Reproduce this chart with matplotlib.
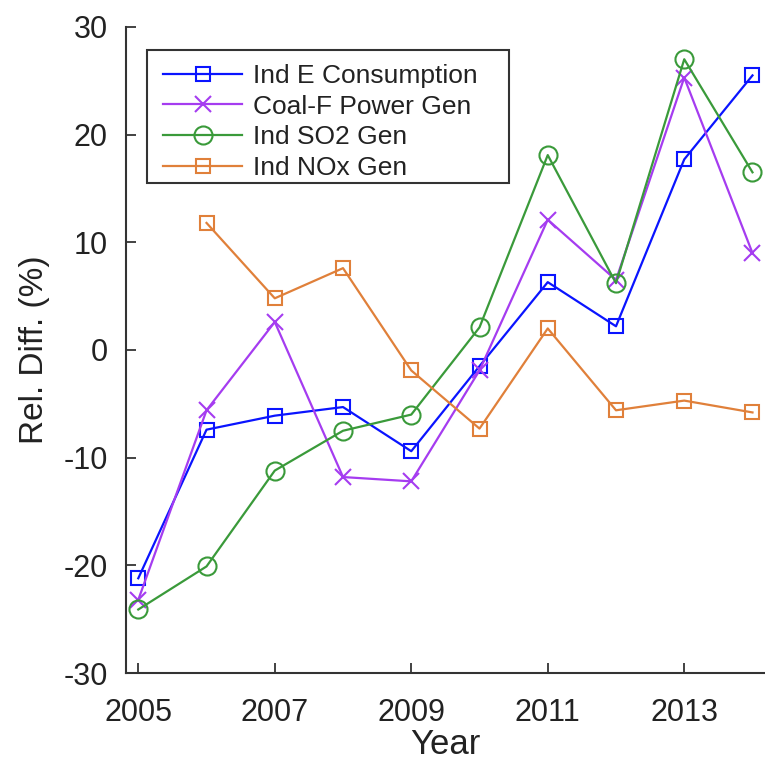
import matplotlib
matplotlib.use("Agg")
import matplotlib.pyplot as plt
from matplotlib.patches import Rectangle

plt.rcParams['font.family'] = ['Liberation Sans', 'DejaVu Sans']
plt.rcParams['axes.unicode_minus'] = False

years = [2005, 2006, 2007, 2008, 2009, 2010, 2011, 2012, 2013, 2014]
years_nox = [2006, 2007, 2008, 2009, 2010, 2011, 2012, 2013, 2014]
ind_e = [-21.2, -7.4, -6.1, -5.3, -9.4, -1.5, 6.3, 2.2, 17.7, 25.5]
coal_f = [-23.2, -5.6, 2.6, -11.8, -12.2, -1.9, 12.1, 6.5, 25.3, 9.0]
ind_so2 = [-24.1, -20.1, -11.2, -7.5, -6.0, 2.1, 18.1, 6.2, 27.0, 16.5]
ind_nox = [11.8, 4.8, 7.6, -1.9, -7.3, 2.0, -5.6, -4.7, -5.8]

fig = plt.figure(figsize=(7.65, 7.61), dpi=100)
ax = fig.add_axes([0.1647, 0.1156, 0.835, 0.849])

lw = 1.6
ax.plot(years, ind_e, color='#0a14ff', marker='s', markersize=10, mfc='none',
        mew=1.5, lw=lw, label='Ind E Consumption')
ax.plot(years, coal_f, color='#a53cf0', marker='x', markersize=12,
        mew=1.5, lw=lw, label='Coal-F Power Gen')
ax.plot(years, ind_so2, color='#3a9a3a', marker='o', markersize=13, mfc='none',
        mew=1.5, lw=lw, label='Ind SO2 Gen')
ax.plot(years_nox, ind_nox, color='#e0803a', marker='s', markersize=10, mfc='none',
        mew=1.5, lw=lw, label='Ind NOx Gen')

ax.set_xlim(2004.82, 2014.18)
ax.set_ylim(-30, 30)
ax.set_xticks([2005, 2007, 2009, 2011, 2013])
ax.set_yticks([-30, -20, -10, 0, 10, 20, 30])
ax.tick_params(direction='in', length=7, width=1.2, labelsize=22, colors='#222222')
ax.tick_params(axis='x', pad=18)
ax.tick_params(axis='y', pad=13)
ax.spines['top'].set_visible(False)
ax.spines['right'].set_visible(False)
for s in ['left', 'bottom']:
    ax.spines[s].set_linewidth(1.5)
    ax.spines[s].set_color('#333333')

ax.set_xlabel('Year', fontsize=25, color='#222222', labelpad=0)
ax.set_ylabel('Rel. Diff. (%)', fontsize=24, color='#222222', labelpad=10)

# legend box drawn separately (wider right padding than matplotlib's frame)
ax.add_patch(Rectangle((0.033, 0.759), 0.566, 0.205, transform=ax.transAxes,
                       fill=True, facecolor='white', edgecolor='#333333',
                       linewidth=1.5, zorder=4))
leg = ax.legend(loc='center left', bbox_to_anchor=(0.058, 0.853), borderaxespad=0,
                fontsize=19, frameon=False, handlelength=3.0, labelspacing=0.25,
                handletextpad=0.42, borderpad=0)
leg.set_zorder(5)
for t in leg.get_texts():
    t.set_color('#222222')

fig.savefig('out.png', dpi=100)
